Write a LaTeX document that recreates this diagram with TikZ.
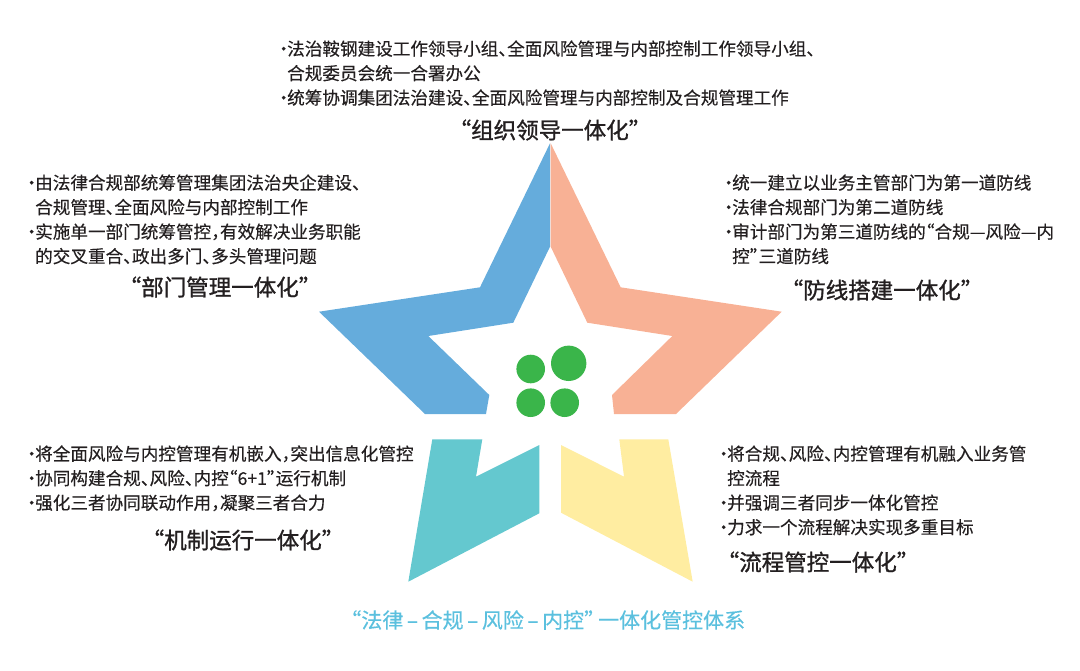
\documentclass[tikz,border=0pt]{standalone}
\usepackage{fontspec}
\setmainfont{Noto Sans CJK SC}[CharacterWidth=AlternateHalf, FakeBold=0.35]
\newfontfamily\mottofont{Noto Sans CJK SC}[FakeBold=1.2]
\usepackage{tikz}
\usetikzlibrary{positioning}
\definecolor{starblue}{HTML}{65ACDC}
\definecolor{starsalmon}{HTML}{F8B195}
\definecolor{starteal}{HTML}{64C8CF}
\definecolor{staryellow}{HTML}{FFEDA1}
\definecolor{dotgreen}{HTML}{3AB54A}
\definecolor{systemblue}{HTML}{5BC0DE}
\definecolor{textgray}{HTML}{231F20}
\newcommand{\dotitem}{\makebox[7pt][c]{·}}

\begin{document}
\begin{tikzpicture}[
		x=1pt, y=-1pt,
		font=\fontsize{17.6}{24.5}\selectfont,
		point/.style={
			anchor=north west,
			inner sep=0pt,
			text=textgray
		},
		motto/.style={
			inner sep=0pt,
			text=textgray,
			font=\mottofont\fontsize{22.5}{25}\selectfont
		}
		]
		\useasboundingbox (0,0) rectangle (1080,670);
		
		% We start by drawing the star pieces
		\fill [starblue] (550,143.3) -- (550,246.7) -- (513.3,322.7) -- (428.3,336)
			-- (489.3,395) -- (486,414) -- (425,414) -- (319,311.7) -- (480,287.3) -- cycle;
		\fill [starsalmon] (550.7,143.3) -- (620.7,287.3) -- (781.7,311.7) -- (676,414)
			-- (614,414) -- (612,395) -- (672.3,336) -- (587.3,322.7) -- (550.7,246.7) -- cycle;
		\fill [starteal] (432.3,439.3) -- (482.3,439.3) -- (476,476.7) -- (539.3,445)
			-- (539.3,513.3) -- (408.3,581.7) -- cycle;
		\fill [staryellow] (619.3,439.3) -- (668.3,439.3) -- (692.7,581.7) -- (561,512.7)
			-- (561,445) -- (624,476.7) -- cycle;
		
		% the four dots
		\fill [dotgreen] (530.7,369) circle (14.3);
		\fill [dotgreen] (568.7,363.3) circle (17.7);
		\fill [dotgreen] (530.7,402.7) circle (14.3);
		\fill [dotgreen] (564.7,402.7) circle (14.3);
		
		% text blocks
		\node [point] (lead) at (280,38)
		{%
			\begin{tabular}{@{}l@{}l@{}}
			\dotitem&法治鞍钢建设工作领导小组、全面风险管理与内部控制工作领导小组、\\
			&合规委员会统一合署办公\\
			\dotitem&统筹协调集团法治建设、全面风险管理与内部控制及合规管理工作
			\end{tabular}
		};
		\node [motto] (leadtitle) at (550,130) {“组织领导一体化”};
		
		\node [point] (dept) at (28,172)
		{%
			\begin{tabular}{@{}l@{}l@{}}
			\dotitem&由法律合规部统筹管理集团法治央企建设、\\
			&合规管理、全面风险与内部控制工作\\
			\dotitem&实施单一部门统筹管控，有效解决业务职能\\
			&的交叉重合、政出多门、多头管理问题
			\end{tabular}
		};
		\node [motto] (depttitle) at (220,287) {“部门管理一体化”};
		
		\node [point] (defense) at (725,172)
		{%
			\begin{tabular}{@{}l@{}l@{}}
			\dotitem&统一建立以业务主管部门为第一道防线\\
			\dotitem&法律合规部门为第二道防线\\
			\dotitem&审计部门为第三道防线的“合规—风险—内\\
			&控”三道防线
			\end{tabular}
		};
		\node [motto] (defensetitle) at (882,290) {“防线搭建一体化”};
		
		\node [point] (mech) at (28,443)
		{%
			\begin{tabular}{@{}l@{}l@{}}
			\dotitem&将全面风险与内控管理有机嵌入，突出信息化管控\\
			\dotitem&协同构建合规、风险、内控“6+1”运行机制\\
			\dotitem&强化三者协同联动作用，凝聚三者合力
			\end{tabular}
		};
		\node [motto] (mechtitle) at (243,540) {“机制运行一体化”};
		
		\node [point] (flow) at (720,443)
		{%
			\begin{tabular}{@{}l@{}l@{}}
			\dotitem&将合规、风险、内控管理有机融入业务管\\
			&控流程\\
			\dotitem&并强调三者同步一体化管控\\
			\dotitem&力求一个流程解决实现多重目标
			\end{tabular}
		};
		\node [motto] (flowtitle) at (818,562) {“流程管控一体化”};
		
		\node [motto, text=systemblue, font=\fontsize{21}{24}\selectfont] (system) at (548,620)
			{“法律\,–\,合规\,–\,风险\,–\,内控”\,一体化管控体系};
		
		\end{tikzpicture}
\end{document}
